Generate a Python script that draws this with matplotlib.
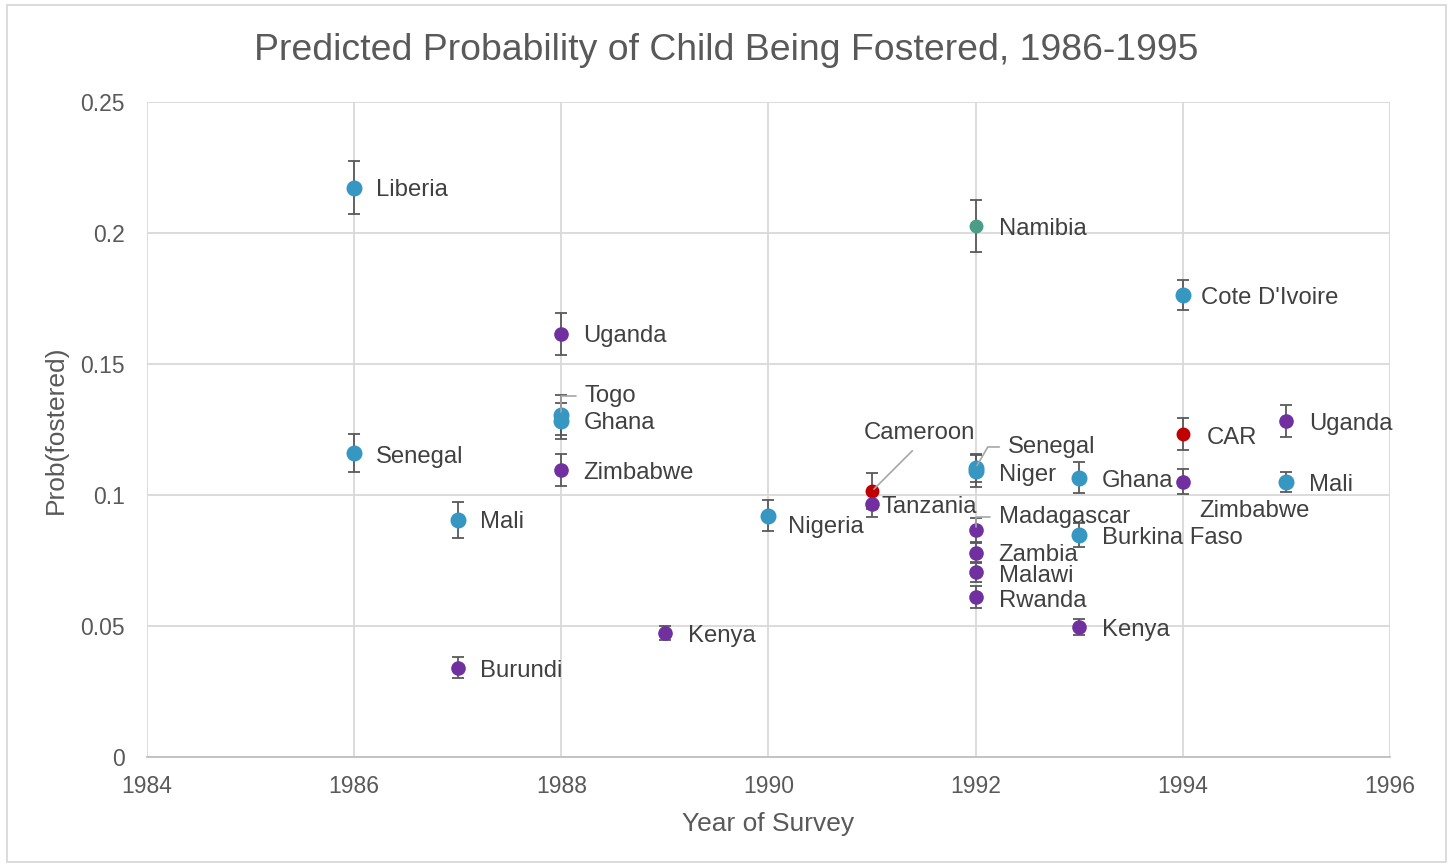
import matplotlib.pyplot as plt
from matplotlib.patches import Rectangle

# Survey estimates: country, year of survey, predicted probability, error half-width, group
countries = ["Liberia", "Senegal", "Mali", "Burundi", "Uganda", "Togo", "Ghana",
             "Zimbabwe", "Kenya", "Nigeria", "Cameroon", "Tanzania", "Namibia",
             "Senegal", "Niger", "Madagascar", "Zambia", "Malawi", "Rwanda",
             "Ghana", "Burkina Faso", "Kenya", "Cote D'Ivoire", "CAR", "Zimbabwe",
             "Uganda", "Mali"]
years = [1986, 1986, 1987, 1987, 1988, 1988, 1988,
         1988, 1989, 1990, 1991, 1991, 1992,
         1992, 1992, 1992, 1992, 1992, 1992,
         1993, 1993, 1993, 1994, 1994, 1994,
         1995, 1995]
probs = [0.2172, 0.1160, 0.0905, 0.0340, 0.1615, 0.1305, 0.1282,
         0.1095, 0.0473, 0.0920, 0.1015, 0.0966, 0.2027,
         0.1103, 0.1092, 0.0866, 0.0779, 0.0706, 0.0611,
         0.1065, 0.0847, 0.0496, 0.1763, 0.1233, 0.1050,
         0.1282, 0.1050]
errors = [0.0101, 0.0071, 0.0069, 0.0040, 0.0080, 0.0078, 0.0069,
          0.0062, 0.0025, 0.0059, 0.0069, 0.0050, 0.0099,
          0.0055, 0.0061, 0.0048, 0.0040, 0.0040, 0.0042,
          0.0059, 0.0046, 0.0029, 0.0057, 0.0061, 0.0048,
          0.0061, 0.0038]
groups = ["W", "W", "W", "E", "E", "W", "W",
          "E", "E", "W", "C", "E", "S",
          "W", "W", "E", "E", "E", "E",
          "W", "W", "E", "W", "C", "E",
          "E", "W"]

group_style = {
    "W": ("#3597c2", 10.5),
    "E": ("#7030a0", 9.5),
    "C": ("#c00000", 9.0),
    "S": ("#4a9e86", 9.0),
}

# label placement: pixel offset from the point, alignment, leader line style
label_offsets = [(22, -2), (22, -4), (22, -2), (22, -3), (22, -2), (23, 19), (22, -2),
                 (22, -3), (23, -3), (20, -11), (47, 58), (9, -3), (23, -3),
                 (32, 21), (23, -4), (23, 13), (23, -2), (23, -4), (23, -4),
                 (23, -3), (23, -3), (23, -3), (18, -3), (24, -4), (16, -29),
                 (23, -3), (23, -3)]
leaders = {5: "angle,angleA=0,angleB=90,rad=0",
           10: "arc3",
           13: "angle,angleA=0,angleB=60,rad=0",
           15: "angle,angleA=0,angleB=90,rad=0"}

TEXT = "#404040"
GRID = "#d9d9d9"

plt.rcParams["font.family"] = ["Liberation Sans", "DejaVu Sans"]

fig = plt.figure(figsize=(14.53, 8.67), dpi=100)
ax = fig.add_axes([0.1012, 0.1269, 0.8554, 0.7555])

for year, p, e, g in zip(years, probs, errors, groups):
    color, size = group_style[g]
    ax.errorbar(year, p, yerr=e, fmt="o", color=color, markersize=size,
                ecolor="#595959", elinewidth=1.3, capsize=4.5, capthick=1.3,
                zorder=3)

for i, (name, year, p) in enumerate(zip(countries, years, probs)):
    dx, dy = label_offsets[i]
    ha = "center" if i == 10 else "left"
    arrow = None
    if i in leaders:
        arrow = dict(arrowstyle="-", color="#a6a6a6", lw=1.2,
                     connectionstyle=leaders[i], shrinkA=4, shrinkB=2,
                     relpos=(0.5, 0.0) if i == 10 else (0.0, 0.5))
    ax.annotate(name, (year, p), xytext=(dx, dy), textcoords="offset pixels",
                ha=ha, va="center", fontsize=17.2, color=TEXT,
                arrowprops=arrow, zorder=4)

ax.set_xlim(1984, 1996)
ax.set_ylim(0, 0.25)
ax.set_xticks(range(1984, 1997, 2))
ax.set_yticks([0, 0.05, 0.1, 0.15, 0.2, 0.25])
ax.set_yticklabels(["0", "0.05", "0.1", "0.15", "0.2", "0.25"])
ax.tick_params(length=0, labelsize=16.5, colors="#595959")
ax.tick_params(axis="x", pad=13)
ax.tick_params(axis="y", pad=16)
ax.grid(True, color=GRID, linewidth=1.3)
ax.set_axisbelow(True)
for side in ("top", "right", "left"):
    ax.spines[side].set_visible(False)
ax.spines["bottom"].set_color("#bfbfbf")
ax.spines["bottom"].set_linewidth(1.3)

ax.set_xlabel("Year of Survey", fontsize=19, color="#595959", labelpad=10)
ax.set_ylabel("Prob(fostered)", fontsize=19, color="#595959", labelpad=9)
fig.text(0.5, 0.942, "Predicted Probability of Child Being Fostered, 1986-1995",
         ha="center", va="center", fontsize=26.9, color="#595959")

fig.patches.append(Rectangle((7 / 1453, 5 / 867), 1439 / 1453, 857 / 867,
                             transform=fig.transFigure, fill=False,
                             edgecolor="#d9d9d9", linewidth=1.3))

fig.savefig("out.png", dpi=100)
